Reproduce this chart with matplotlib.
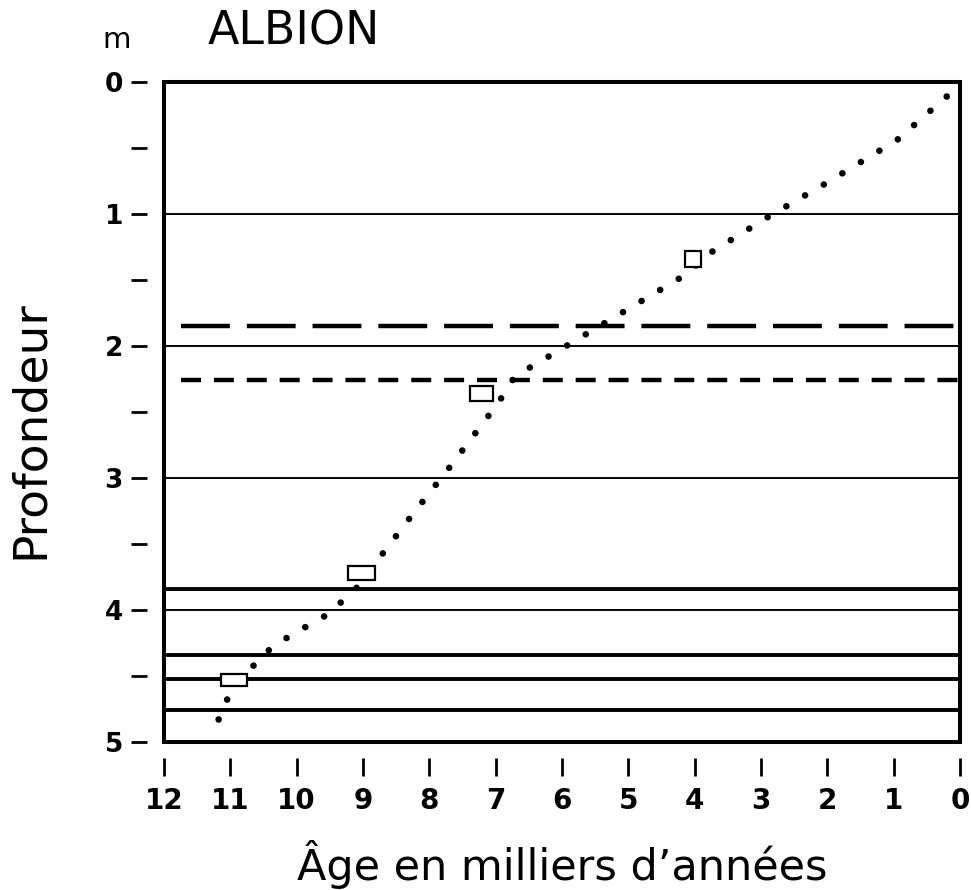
import matplotlib
matplotlib.use("Agg")
import matplotlib.pyplot as plt
from matplotlib.patches import Rectangle

# ---- data ----
curve_age = [0.20, 0.95, 2.03, 2.92, 3.75, 4.17, 5.27, 6.17, 6.71, 6.88, 7.08,
             7.65, 8.29, 8.76, 9.05, 9.52, 10.08, 10.37, 10.63, 10.99, 11.27]
curve_depth = [0.11, 0.44, 0.77, 1.03, 1.29, 1.47, 1.80, 2.07, 2.23, 2.37, 2.51,
               2.89, 3.30, 3.61, 3.81, 4.03, 4.19, 4.28, 4.41, 4.61, 4.94]

date_age = [4.03, 7.21, 9.02, 10.95]
date_depth = [1.34, 2.36, 3.72, 4.53]
date_age_halfwidth = [0.12, 0.17, 0.205, 0.195]
date_depth_halfheight = [0.062, 0.057, 0.053, 0.048]

thin_levels = [1, 2, 3, 4]
thick_levels = [3.84, 4.34, 4.52, 4.76]
long_dash_level = [1.845]
short_dash_level = [2.26]

x_ticks = list(range(0, 13))
x_ticklabels = [str(v) for v in x_ticks]
y_major = [0, 1, 2, 3, 4, 5]
y_minor = [0.5, 1.5, 2.5, 3.5, 4.5]
y_ticklabels = [str(v) for v in y_major]

title = "ALBION"
unit = "m"
ylabel = "Profondeur"
xlabel = "Âge en milliers d’années"

# ---- figure ----
plt.rcParams['font.family'] = ['DejaVu Sans']
fig = plt.figure(figsize=(9.71, 8.90), dpi=100)
ax = fig.add_axes([164/971, 1-742/890, (960-164)/971, (742-82)/890])
ax.set_xlim(12, 0)
ax.set_ylim(5, 0)

for d in thin_levels:
    ax.axhline(d, color='black', lw=1.4, zorder=2)
for d in thick_levels:
    ax.axhline(d, color='black', lw=2.8, zorder=2)
for d in long_dash_level:
    ax.axhline(d, xmin=0.021, color='black', lw=3.2, dashes=(11, 3.8),
               dash_capstyle='butt', zorder=2)
for d in short_dash_level:
    ax.axhline(d, xmin=0.021, color='black', lw=3.2, dashes=(4.5, 2.9),
               dash_capstyle='butt', zorder=2)

ax.plot(curve_age, curve_depth, color='black', lw=4.8,
        dashes=(0.001, 3.25), dash_capstyle='round', zorder=3)

for a, d, ha, hd in zip(date_age, date_depth, date_age_halfwidth, date_depth_halfheight):
    ax.add_patch(Rectangle((a - ha, d - hd), 2*ha, 2*hd, facecolor='white',
                           edgecolor='black', lw=1.6, zorder=4))

# frame
for s in ax.spines.values():
    s.set_visible(False)
ax.spines['left'].set_position(('outward', 12))
ax.spines['bottom'].set_position(('outward', 11.3))
ax.add_patch(Rectangle((0, 0), 1, 1, transform=ax.transAxes, fill=False,
                       lw=2.9, edgecolor='black', clip_on=False, zorder=6,
                       joinstyle='miter'))

ax.set_xticks(x_ticks)
ax.set_xticklabels(x_ticklabels, fontweight='bold')
ax.set_yticks(y_major)
ax.set_yticklabels(y_ticklabels, fontweight='bold')
ax.set_yticks(y_minor, minor=True)
ax.tick_params(axis='y', which='both', direction='out', length=11.5, width=2,
               pad=6, labelsize=19)
ax.tick_params(axis='x', which='both', direction='out', length=13, width=2,
               pad=8, labelsize=20)

fig.text(294/971, 1-32/890, title, fontsize=33, ha='center', va='center')
fig.text(102/971, 1-48/890, unit, fontsize=21, ha='left', va='baseline')
fig.text(30/971, 1-430/890, ylabel, fontsize=34, rotation=90, ha='center', va='center')
fig.text(562/971, 1-880/890, xlabel, fontsize=31, ha='center', va='baseline')

fig.savefig("out.png", dpi=100)
